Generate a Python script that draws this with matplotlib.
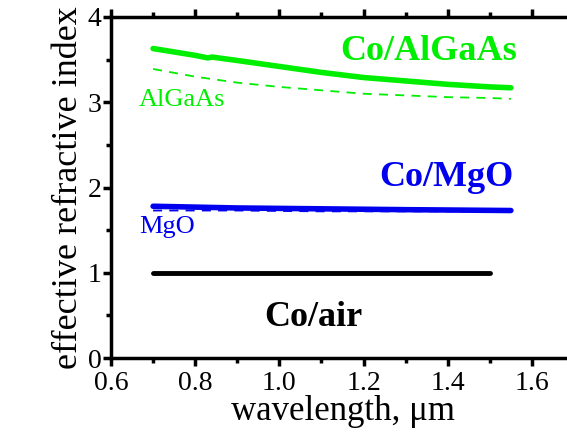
import numpy as np
import matplotlib.pyplot as plt
from matplotlib.ticker import MultipleLocator

plt.rcParams['font.family'] = ['Liberation Serif', 'DejaVu Serif']

# Co/AlGaAs (solid) and bulk AlGaAs (dashed)
wl_algaas = [0.70, 0.75, 0.80, 0.83, 0.84, 0.90, 1.00, 1.10, 1.20, 1.30, 1.40, 1.50, 1.55]
n_co_algaas = [3.63, 3.59, 3.55, 3.52, 3.53, 3.49, 3.42, 3.35, 3.29, 3.25, 3.21, 3.18, 3.17]
wl_algaas_bulk = [0.70, 0.80, 0.90, 1.00, 1.10, 1.20, 1.30, 1.40, 1.50, 1.55]
n_algaas = [3.39, 3.30, 3.23, 3.18, 3.14, 3.10, 3.08, 3.06, 3.05, 3.04]

# Co/MgO (solid) and bulk MgO (dashed)
wl_mgo = [0.70, 0.90, 1.10, 1.30, 1.55]
n_co_mgo = [1.78, 1.76, 1.75, 1.74, 1.73]
n_mgo = [1.73, 1.73, 1.72, 1.72, 1.72]

# Co/air
wl_air = [0.70, 1.50]
n_co_air = [1.0, 1.0]

green = '#00ee00'
blue = '#0000ee'

fig = plt.figure(figsize=(5.67, 4.32), dpi=100)
ax = fig.add_axes([111 / 567, (432 - 358) / 432, 463 / 567, 341 / 432])

ax.plot(wl_algaas, n_co_algaas, color=green, lw=4, solid_capstyle='round')
ax.plot(wl_algaas_bulk, n_algaas, color=green, lw=1.3, ls=(0, (5, 4)))
ax.plot(wl_mgo, n_co_mgo, color=blue, lw=4, solid_capstyle='round')
ax.plot(wl_mgo, n_mgo, color=blue, lw=1.3, ls=(0, (5, 4)))
ax.plot(wl_air, n_co_air, color='black', lw=3.5, solid_capstyle='round')

ax.text(1.354, 3.59, 'Co/AlGaAs', color=green, fontsize=26, fontweight='bold', ha='center', va='center')
ax.text(0.667, 3.03, 'AlGaAs', color=green, fontsize=19, ha='left', va='center')
ax.text(1.396, 2.12, 'Co/MgO', color=blue, fontsize=26, fontweight='bold', ha='center', va='center')
ax.text(0.667, 1.54, 'MgO', color=blue, fontsize=19, ha='left', va='center')
ax.text(1.08, 0.47, 'Co/air', color='black', fontsize=26, fontweight='bold', ha='center', va='center')

ax.set_xlim(0.6, 1.7)
ax.set_ylim(0, 4)
ax.xaxis.set_major_locator(MultipleLocator(0.2))
ax.xaxis.set_minor_locator(MultipleLocator(0.1))
ax.yaxis.set_major_locator(MultipleLocator(1))
ax.yaxis.set_minor_locator(MultipleLocator(0.5))
ax.xaxis.set_major_formatter(plt.FuncFormatter(lambda v, p: f'{v:.1f}'))

for s in ['left', 'bottom', 'top']:
    ax.spines[s].set_linewidth(2.5)
ax.spines['right'].set_visible(False)

ax.tick_params(which='both', direction='out', width=2.5, labelsize=20, top=True, right=False)
ax.tick_params(which='major', length=6)
ax.tick_params(which='minor', length=3.5)
ax.tick_params(axis='x', which='both', labeltop=False, pad=3)
ax.tick_params(axis='y', which='both', pad=1)

ax.set_xlabel('wavelength, μm', fontsize=25, labelpad=0)
ax.set_ylabel('effective refractive index', fontsize=26, labelpad=2)

fig.savefig('out.png', dpi=100)
